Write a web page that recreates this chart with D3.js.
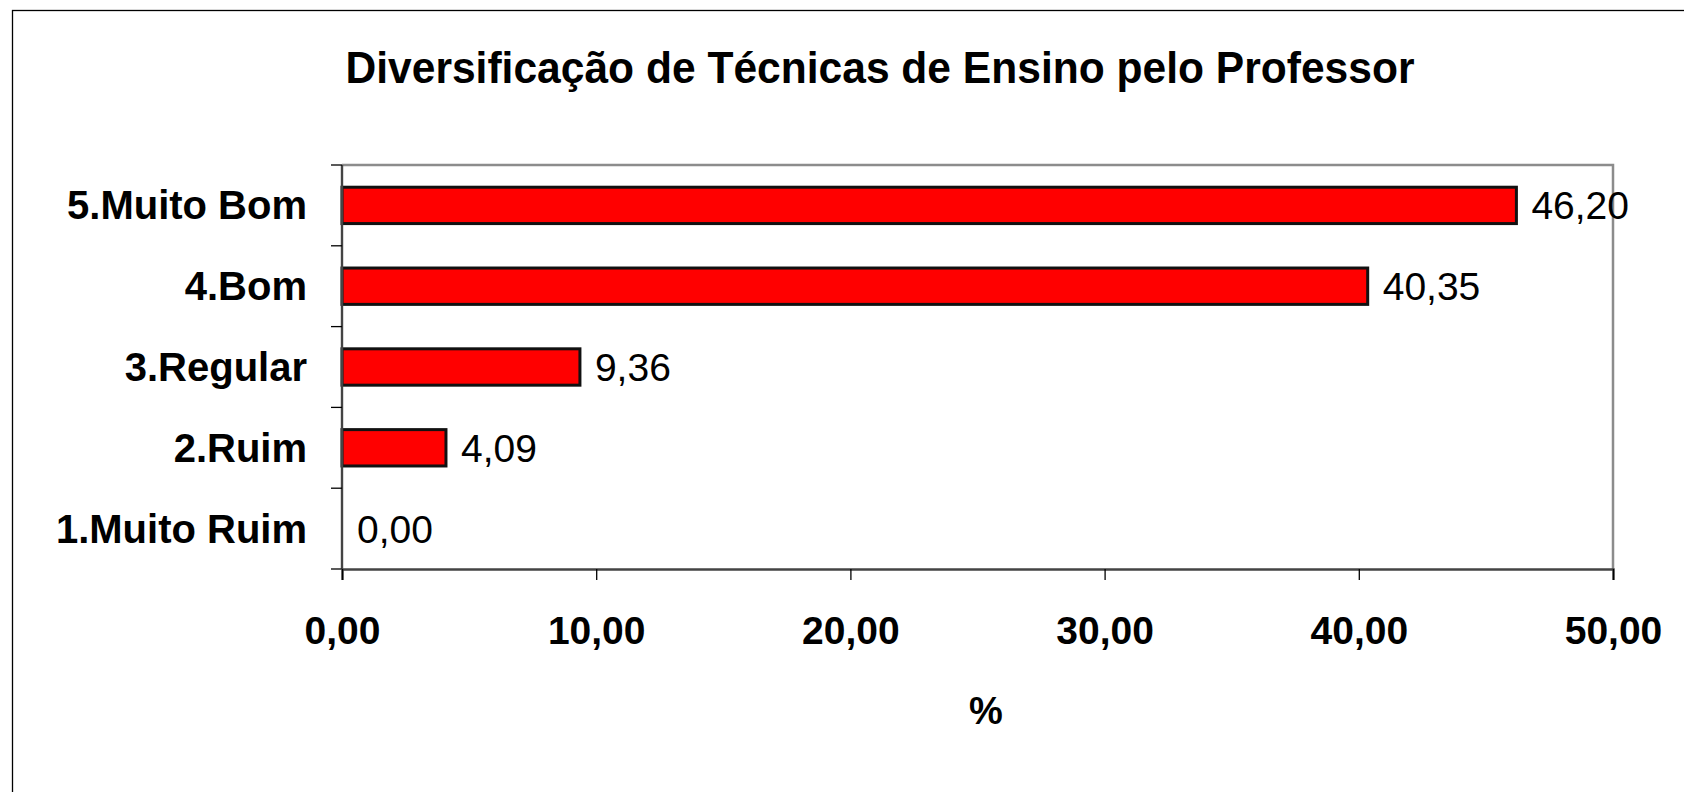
<!DOCTYPE html>
<html>
<head>
<meta charset="utf-8">
<script src="https://cdnjs.cloudflare.com/ajax/libs/d3/7.8.5/d3.min.js"></script>
<style>
  body { margin: 0; background: #fff; }
  svg { display: block; font-family: "Liberation Sans", Arial, sans-serif; }
</style>
</head>
<body>
<div id="chart"></div>
<script>
// data
const categories = ["5.Muito Bom", "4.Bom", "3.Regular", "2.Ruim", "1.Muito Ruim"];
const values = [46.20, 40.35, 9.36, 4.09, 0.00];
const xTicks = [0, 10, 20, 30, 40, 50];

const width = 1684;
const height = 792;
const margin = { top: 165, right: 71, bottom: 223, left: 342 };

const fmt = v => v.toFixed(2).replace(".", ",");

const svg = d3.select("#chart")
    .append("svg")
    .attr("width", width)
    .attr("height", height);

// outer frame (runs off the right / bottom edge)
svg.append("rect")
    .attr("x", 12.5).attr("y", 10.5)
    .attr("width", width).attr("height", height)
    .attr("fill", "none")
    .attr("stroke", "#000")
    .attr("stroke-width", 1.3);

svg.append("text")
    .attr("x", 880)
    .attr("y", 83)
    .attr("text-anchor", "middle")
    .attr("textLength", 1069)
    .attr("lengthAdjust", "spacingAndGlyphs")
    .style("font-size", "45px")
    .style("font-weight", "bold")
    .text("Diversificação de Técnicas de Ensino pelo Professor");

const xScale = d3.scaleLinear()
    .domain([0, 50])
    .range([margin.left, width - margin.right]);

const yScale = d3.scaleBand()
    .domain(categories)
    .range([margin.top, height - margin.bottom])
    .paddingInner(0.55)
    .paddingOuter(0.275);

const plotTop = margin.top, plotBottom = height - margin.bottom;

// plot area border (top and right are gray)
svg.append("path")
    .attr("d", `M${xScale(0)},${plotTop}H${xScale(50)}V${plotBottom}`)
    .attr("fill", "none")
    .attr("stroke", "#8c8c8c")
    .attr("stroke-width", 2.5);

svg.selectAll("rect.bar")
    .data(values)
    .join("rect")
    .attr("class", "bar")
    .attr("x", xScale(0))
    .attr("y", (d, i) => yScale(categories[i]))
    .attr("width", d => xScale(d) - xScale(0))
    .attr("height", yScale.bandwidth())
    .attr("fill", d => d > 0 ? "#ff0000" : "none")
    .attr("stroke", d => d > 0 ? "#111" : "none")
    .attr("stroke-width", 3);

svg.selectAll("text.val")
    .data(values)
    .join("text")
    .attr("class", "val")
    .attr("x", d => xScale(d) + 15)
    .attr("y", (d, i) => yScale(categories[i]) + yScale.bandwidth() / 2 + 14)
    .style("font-size", "39px")
    .text(d => fmt(d));

// y axis: ticks at band boundaries
const yAxis = svg.append("g");
yAxis.append("line")
    .attr("x1", xScale(0)).attr("x2", xScale(0))
    .attr("y1", plotTop).attr("y2", plotBottom)
    .attr("stroke", "#444").attr("stroke-width", 2.4);
const step = yScale.step();
yAxis.selectAll("line.tk")
    .data(d3.range(categories.length + 1))
    .join("line")
    .attr("class", "tk")
    .attr("x1", xScale(0) - 11).attr("x2", xScale(0))
    .attr("y1", i => plotTop + i * step)
    .attr("y2", i => plotTop + i * step)
    .attr("stroke", "#000").attr("stroke-width", 1.3);
yAxis.selectAll("text")
    .data(categories)
    .join("text")
    .attr("x", 307)
    .attr("y", d => yScale(d) + yScale.bandwidth() / 2 + 14)
    .attr("text-anchor", "end")
    .style("font-size", "40px")
    .style("font-weight", "bold")
    .text(d => d);

// x axis
const xAxis = svg.append("g")
    .attr("transform", `translate(0,${plotBottom})`)
    .call(d3.axisBottom(xScale).tickValues(xTicks).tickSize(11).tickFormat(fmt));
xAxis.select(".domain").attr("stroke", "#444").attr("stroke-width", 2.4);
xAxis.selectAll(".tick line").attr("stroke", "#000").attr("stroke-width", 1.3);
xAxis.selectAll(".tick text")
    .attr("y", 0)
    .attr("dy", 75)
    .attr("fill", "#000")
    .style("font-size", "39px")
    .style("font-weight", "bold")
    .style("font-family", "\"Liberation Sans\", Arial, sans-serif");

svg.append("text")
    .attr("x", 986)
    .attr("y", 724)
    .attr("text-anchor", "middle")
    .style("font-size", "38px")
    .style("font-weight", "bold")
    .text("%");
</script>
</body>
</html>
